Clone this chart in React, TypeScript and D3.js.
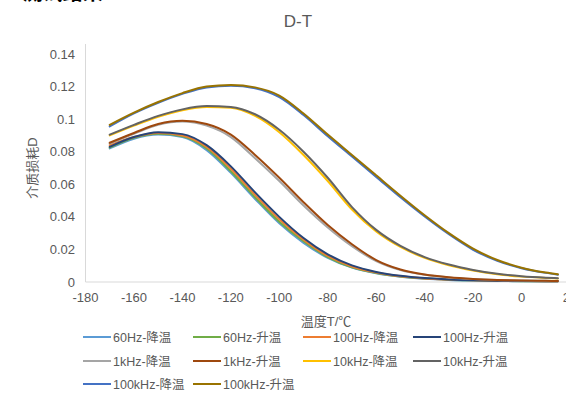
import { useEffect, useRef } from "react";
import * as d3 from "d3";

const temps = [-170, -160, -150, -140, -130, -120, -110, -100, -90, -80, -70, -60, -50, -40, -30, -20, -10, 0, 10, 15];

const seriesNames = [
    "60Hz-降温", "60Hz-升温", "100Hz-降温", "100Hz-升温",
    "1kHz-降温", "1kHz-升温", "10kHz-降温", "10kHz-升温",
    "100kHz-降温", "100kHz-升温",
];

const seriesColors = [
    "#5B9BD5", "#70AD47", "#ED7D31", "#264478",
    "#A5A5A5", "#9E480E", "#FFC000", "#636363",
    "#4472C4", "#997300",
];

const hz60Down = [0.082, 0.088, 0.0905, 0.089, 0.081, 0.067, 0.051, 0.036, 0.024, 0.0148, 0.0088, 0.0053, 0.0032, 0.002, 0.0013, 0.0009, 0.0006, 0.0005, 0.0004, 0.0004];
const hz60Up = [0.0825, 0.0885, 0.091, 0.0895, 0.082, 0.068, 0.052, 0.037, 0.025, 0.0153, 0.009, 0.0055, 0.0033, 0.0021, 0.0014, 0.001, 0.0007, 0.0005, 0.0004, 0.0004];
const hz100Down = [0.084, 0.089, 0.0915, 0.09, 0.083, 0.0695, 0.0535, 0.0385, 0.026, 0.016, 0.0095, 0.0058, 0.0035, 0.0022, 0.0015, 0.001, 0.0007, 0.0006, 0.0005, 0.0005];
const hz100Up = [0.083, 0.089, 0.092, 0.0908, 0.084, 0.071, 0.055, 0.04, 0.027, 0.017, 0.0102, 0.0062, 0.0038, 0.0024, 0.0016, 0.0011, 0.0008, 0.0006, 0.0005, 0.0005];
const khz1Down = [0.085, 0.091, 0.0965, 0.0985, 0.096, 0.089, 0.076, 0.062, 0.047, 0.0335, 0.022, 0.0128, 0.0073, 0.0044, 0.0028, 0.0018, 0.0012, 0.0009, 0.0007, 0.0006];
const khz1Up = [0.0855, 0.0915, 0.097, 0.099, 0.097, 0.0905, 0.078, 0.064, 0.049, 0.035, 0.0232, 0.0135, 0.0077, 0.0046, 0.0029, 0.0019, 0.0013, 0.0009, 0.0007, 0.0006];
const khz10Down = [0.09, 0.096, 0.1015, 0.1055, 0.1075, 0.107, 0.102, 0.092, 0.078, 0.062, 0.0445, 0.031, 0.0215, 0.0148, 0.0103, 0.0071, 0.0048, 0.0033, 0.0025, 0.0022];
const khz10Up = [0.0905, 0.0965, 0.102, 0.106, 0.108, 0.1075, 0.103, 0.0935, 0.08, 0.064, 0.046, 0.032, 0.0222, 0.0153, 0.0107, 0.0074, 0.005, 0.0035, 0.0026, 0.0023];
const khz100Down = [0.0955, 0.1035, 0.11, 0.1155, 0.1195, 0.1205, 0.119, 0.1135, 0.1025, 0.0895, 0.077, 0.0645, 0.052, 0.0402, 0.0293, 0.0198, 0.013, 0.0085, 0.0056, 0.0045];
const khz100Up = [0.0965, 0.104, 0.1105, 0.116, 0.12, 0.121, 0.1195, 0.1145, 0.1035, 0.0905, 0.078, 0.0655, 0.053, 0.041, 0.030, 0.0205, 0.0135, 0.0088, 0.0058, 0.0047];

const seriesValues = [hz60Down, hz60Up, hz100Down, hz100Up, khz1Down, khz1Up, khz10Down, khz10Up, khz100Down, khz100Up];

const xTicks = [-180, -160, -140, -120, -100, -80, -60, -40, -20, 0, 20];
const yTicks = [0, 0.02, 0.04, 0.06, 0.08, 0.1, 0.12, 0.14];

const font = "'Liberation Sans', Arial, 'Noto Sans CJK SC', sans-serif";
const textColor = "#595959";

const App = () => {
    const svgRef = useRef<SVGSVGElement>(null);

    useEffect(() => {
        const svg = d3.select(svgRef.current);
        svg.selectAll("*").remove();

        const width = 566;
        const height = 393;
        svg.attr("width", width).attr("height", height).style("font-family", font);

        const x = d3.scaleLinear().domain([-180, 20]).range([85.5, 570]);
        const y = d3.scaleLinear().domain([0, 0.14]).range([282, 54]);

        // heading of the page, cut off by the top edge
        svg.append("text")
            .attr("x", 6).attr("y", 0)
            .attr("font-size", 20).attr("font-weight", "bold")
            .attr("fill", "#000")
            .text("2.测试结果：");

        svg.append("text")
            .attr("x", 298).attr("y", 27)
            .attr("text-anchor", "middle")
            .attr("font-size", 17)
            .attr("fill", textColor)
            .text("D-T");

        // axes
        svg.append("line")
            .attr("x1", x(-180)).attr("x2", width)
            .attr("y1", y(0)).attr("y2", y(0))
            .attr("stroke", "#D9D9D9");
        svg.append("line")
            .attr("x1", x(-180)).attr("x2", x(-180))
            .attr("y1", y(0)).attr("y2", y(0.14) - 10)
            .attr("stroke", "#D9D9D9");

        svg.selectAll(".ytick")
            .data(yTicks)
            .enter()
            .append("text")
            .attr("x", 75)
            .attr("y", (d) => y(d) + 4.5)
            .attr("text-anchor", "end")
            .attr("font-size", 13)
            .attr("fill", textColor)
            .text((d) => String(d));

        svg.selectAll(".xtick")
            .data(xTicks)
            .enter()
            .append("text")
            .attr("x", (d) => x(d))
            .attr("y", 302)
            .attr("text-anchor", "middle")
            .attr("font-size", 13)
            .attr("fill", textColor)
            .text((d) => String(d));

        svg.append("text")
            .attr("x", 326).attr("y", 326)
            .attr("text-anchor", "middle")
            .attr("font-size", 13)
            .attr("fill", textColor)
            .text("温度T/℃");

        svg.append("text")
            .attr("transform", "translate(37,168) rotate(-90)")
            .attr("text-anchor", "middle")
            .attr("font-size", 13)
            .attr("fill", textColor)
            .text("介质损耗D");

        const line = d3.line<number>()
            .x((_, i) => x(temps[i]))
            .y((d) => y(d))
            .curve(d3.curveMonotoneX);

        seriesValues.forEach((vals, i) => {
            svg.append("path")
                .attr("d", line(vals)!)
                .attr("fill", "none")
                .attr("stroke", seriesColors[i])
                .attr("stroke-width", 2)
                .attr("stroke-linecap", "round");
        });

        // legend
        const colX = [83, 193, 303, 413];
        const rowY = [337, 361, 384];
        seriesNames.forEach((name, i) => {
            const cx = colX[i % 4];
            const cy = rowY[Math.floor(i / 4)];
            svg.append("line")
                .attr("x1", cx).attr("x2", cx + 28)
                .attr("y1", cy).attr("y2", cy)
                .attr("stroke", seriesColors[i])
                .attr("stroke-width", 2);
            svg.append("text")
                .attr("x", cx + 30).attr("y", cy + 4.5)
                .attr("font-size", 12.5)
                .attr("fill", textColor)
                .text(name);
        });
    }, []);

    return <svg ref={svgRef} style={{ position: "absolute", left: 0, top: 0 }} />;
};

export default App;
